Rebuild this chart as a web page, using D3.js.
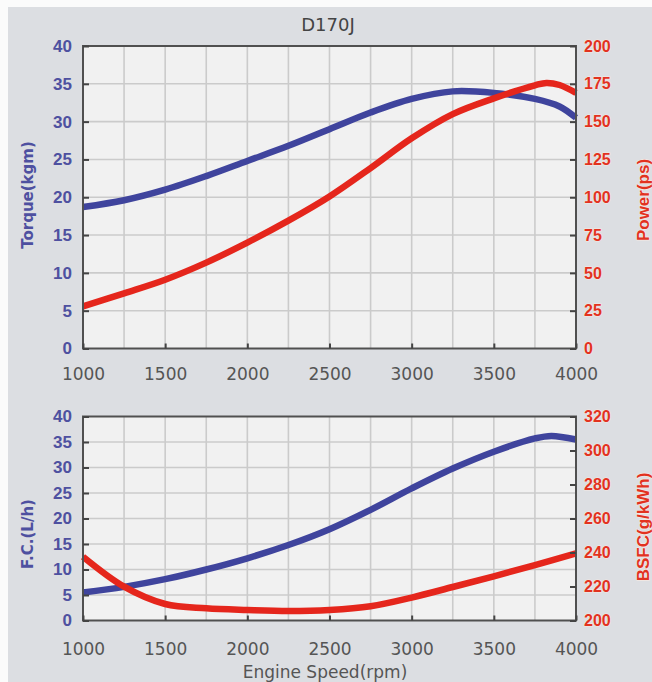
<!DOCTYPE html>
<html>
<head>
<meta charset="utf-8">
<script src="https://cdn.jsdelivr.net/npm/d3@7/dist/d3.min.js"></script>
<style>
html,body{margin:0;padding:0;background:#fbfbfb;}
svg{display:block;}
</style>
</head>
<body>
<script>
// ---- data ----
const title = "D170J";
const xTicks = [1000, 1500, 2000, 2500, 3000, 3500, 4000];

const torqueRpm = [1000, 1250, 1500, 1750, 2000, 2250, 2500, 2750, 3000, 3250, 3500, 3750, 3900, 4000];
const torque    = [18.7, 19.6, 21.0, 22.8, 24.8, 26.8, 29.0, 31.2, 33.0, 34.0, 33.8, 33.0, 32.0, 30.5];

const powerRpm  = [1000, 1250, 1500, 1750, 2000, 2250, 2500, 2750, 3000, 3250, 3500, 3750, 3820, 3900, 4000];
const power     = [27.8, 36.5, 45.5, 56.8, 70.0, 84.5, 100.5, 119.3, 139.0, 155.0, 165.4, 174.0, 175.6, 174.2, 169.0];

const fcRpm     = [1000, 1250, 1500, 1750, 2000, 2250, 2500, 2750, 3000, 3250, 3500, 3750, 3850, 4000];
const fc        = [5.5, 6.6, 8.1, 10.0, 12.2, 14.8, 17.9, 21.7, 25.9, 29.8, 33.1, 35.7, 36.2, 35.5];

const bsfcRpm   = [1000, 1250, 1500, 1750, 2000, 2250, 2500, 2750, 3000, 3250, 3500, 3750, 4000];
const bsfc      = [237.5, 219.9, 209.7, 207.2, 206.2, 205.6, 206.2, 208.4, 213.5, 219.7, 226.0, 232.6, 239.5];

const torqueTicks = d3.range(0, 41, 5);
const powerTicks  = d3.range(0, 201, 25);
const fcTicks     = d3.range(0, 41, 5);
const bsfcTicks   = d3.range(200, 321, 20);

// ---- styles ----
const BLUE = "#3f449d", RED = "#e5261c", LBLUE = "#4e50a0", LRED = "#e2321f";
const W = 652, H = 682;
const svg = d3.select("body").append("svg").attr("width", W).attr("height", H);
svg.append("rect").attr("x", 8).attr("y", 7).attr("width", W - 8).attr("height", H - 7).attr("fill", "#dcdee2");

const x = d3.scaleLinear().domain([1000, 4000]).range([83, 576]);

svg.append("text").attr("x", 328).attr("y", 31).attr("text-anchor", "middle")
  .attr("font-family", "DejaVu Sans").attr("font-size", 18).attr("fill", "#444").text(title);

function panel(top, bottom, yL, yR, lTicks, rTicks, lData, rData, lTitle, rTitle, lTitleY, rTitleY, xLabY) {
  const g = svg.append("g");
  g.append("rect").attr("x", x.range()[0]).attr("y", top).attr("width", x.range()[1] - x.range()[0])
    .attr("height", bottom - top).attr("fill", "#f1f1f1");
  // vertical grid every 250
  g.selectAll(".vg").data(d3.range(1250, 4000, 250)).join("line")
    .attr("x1", d => x(d)).attr("x2", d => x(d)).attr("y1", top).attr("y2", bottom)
    .attr("stroke", "#cbcbcb").attr("stroke-width", 1.6);
  g.selectAll(".hg").data(lTicks.slice(1, -1)).join("line")
    .attr("x1", x.range()[0]).attr("x2", x.range()[1]).attr("y1", d => yL(d)).attr("y2", d => yL(d))
    .attr("stroke", "#cbcbcb").attr("stroke-width", 1.6);

  // curves
  const line = (ys) => d3.line().x(d => x(d[0])).y(d => ys(d[1])).curve(d3.curveCatmullRom.alpha(0.5));
  g.append("path").datum(d3.zip(lData[0], lData[1])).attr("d", line(yL))
    .attr("fill", "none").attr("stroke", BLUE).attr("stroke-width", 6.5).attr("stroke-linecap", "butt");
  g.append("path").datum(d3.zip(rData[0], rData[1])).attr("d", line(yR))
    .attr("fill", "none").attr("stroke", RED).attr("stroke-width", 6.5).attr("stroke-linecap", "butt");

  // frame
  g.append("rect").attr("x", x.range()[0]).attr("y", top).attr("width", x.range()[1] - x.range()[0])
    .attr("height", bottom - top).attr("fill", "none").attr("stroke", "#505050").attr("stroke-width", 2);

  // axes with inward ticks
  const ax = d3.axisBottom(x).tickValues(xTicks).tickFormat(d3.format("d"))
    .tickSizeInner(-5).tickSizeOuter(0).tickPadding(14);
  const gx = g.append("g").attr("transform", `translate(0,${bottom})`).call(ax);
  gx.select(".domain").remove();
  gx.selectAll(".tick line").attr("stroke", "#444").attr("stroke-width", 2);
  gx.selectAll("text").attr("font-family", "DejaVu Sans").attr("font-size", 17).attr("fill", "#555")
    .attr("y", null).attr("dy", null).attr("transform", `translate(0,${xLabY - bottom})`);

  const al = d3.axisLeft(yL).tickValues(lTicks).tickSizeInner(-6).tickSizeOuter(0).tickPadding(11);
  const gl = g.append("g").attr("transform", `translate(${x.range()[0]},0)`).call(al);
  gl.select(".domain").remove();
  gl.selectAll(".tick line").attr("stroke", "#444").attr("stroke-width", 2);
  gl.selectAll("text").attr("font-family", "Liberation Sans").attr("font-weight", "bold")
    .attr("font-size", 17).attr("fill", LBLUE);

  const ar = d3.axisRight(yR).tickValues(rTicks).tickSizeInner(-6).tickSizeOuter(0).tickPadding(8);
  const gr = g.append("g").attr("transform", `translate(${x.range()[1]},0)`).call(ar);
  gr.select(".domain").remove();
  gr.selectAll(".tick line").attr("stroke", "#444").attr("stroke-width", 2);
  gr.selectAll("text").attr("font-family", "Liberation Sans").attr("font-weight", "bold")
    .attr("font-size", 16).attr("fill", LRED)
    .attr("stroke", "#f4e9e4").attr("stroke-width", 1.2).attr("paint-order", "stroke");

  g.append("text").attr("transform", `translate(33,${lTitleY}) rotate(-90)`).attr("text-anchor", "middle")
    .attr("font-family", "DejaVu Sans").attr("font-weight", "bold").attr("font-size", 15)
    .attr("fill", LBLUE).text(lTitle);
  g.append("text").attr("transform", `translate(649,${rTitleY}) rotate(-90)`).attr("text-anchor", "middle")
    .attr("font-family", "Liberation Sans").attr("font-weight", "bold").attr("font-size", 17)
    .attr("fill", LRED).attr("stroke", "#f4e9e4").attr("stroke-width", 1.2).attr("paint-order", "stroke")
    .text(rTitle);
}

const yT = d3.scaleLinear().domain([0, 40]).range([348.5, 46]);
const yP = d3.scaleLinear().domain([0, 200]).range([348.5, 46]);
panel(46, 348.5, yT, yP, torqueTicks, powerTicks, [torqueRpm, torque], [powerRpm, power],
  "Torque(kgm)", "Power(ps)", 195, 200, 380);

const yF = d3.scaleLinear().domain([0, 40]).range([620.5, 416.5]);
const yB = d3.scaleLinear().domain([200, 320]).range([620.5, 416.5]);
panel(416.5, 620.5, yF, yB, fcTicks, bsfcTicks, [fcRpm, fc], [bsfcRpm, bsfc],
  "F.C.(L/h)", "BSFC(g/kWh)", 534, 527, 655);

svg.append("text").attr("x", 325).attr("y", 678).attr("text-anchor", "middle")
  .attr("font-family", "DejaVu Sans").attr("font-size", 17).attr("fill", "#555").text("Engine Speed(rpm)");
</script>
</body>
</html>
